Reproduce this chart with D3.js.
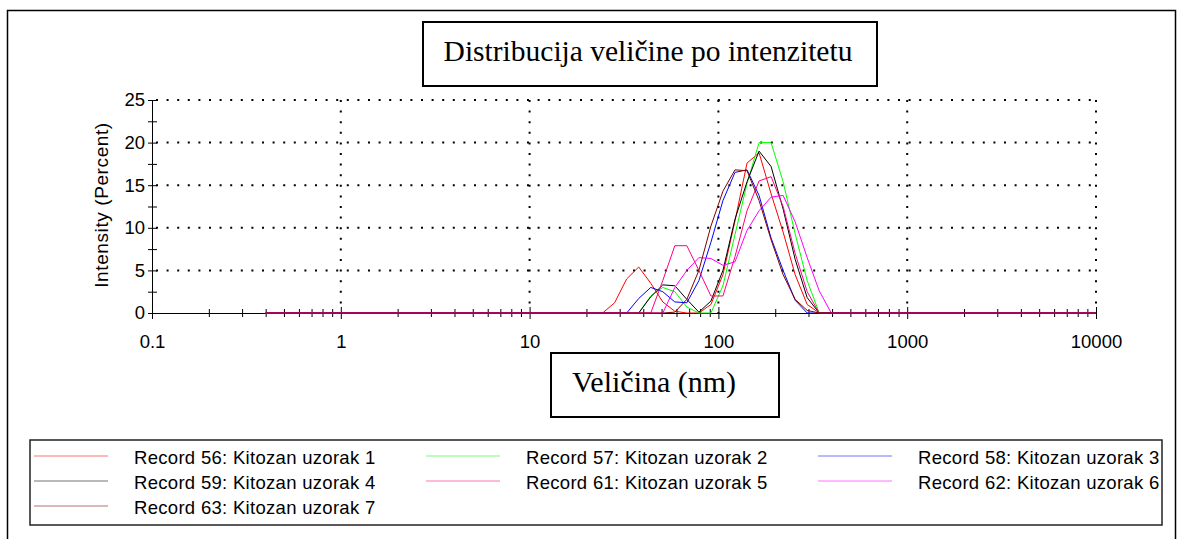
<!DOCTYPE html>
<html>
<head>
<meta charset="utf-8">
<script src="https://cdn.jsdelivr.net/npm/d3@7"></script>
<style>
  body { margin: 0; background: #fff; }
  svg { display: block; font-family: "Liberation Sans", Arial, sans-serif; }
</style>
</head>
<body>
<div id="chart"></div>
<script>
var svgWidth = 1178;
var svgHeight = 539;

// size classes (nm)
var sizes = [
  0.4, 0.4632, 0.5365, 0.6213, 0.7195, 0.8332, 0.965, 1.117, 1.294, 1.499,
  1.736, 2.01, 2.328, 2.696, 3.122, 3.615, 4.187, 4.849, 5.615, 6.503,
  7.531, 8.721, 10.1, 11.7, 13.54, 15.69, 18.17, 21.04, 24.36, 28.21,
  32.67, 37.84, 43.82, 50.75, 58.77, 68.06, 78.82, 91.28, 105.7, 122.4,
  141.8, 164.2, 190.1, 220.2, 255.0, 295.3, 342.0, 396.1, 458.7, 531.2,
  615.1, 712.4, 825.0, 955.4, 1106, 1281, 1484, 1718, 1990, 2305,
  2669, 3091, 3580, 4145, 4801, 5560, 6439, 7456, 8635, 10000
];

// intensity (%) per size class
var rec56 = [
  0, 0, 0, 0, 0, 0, 0, 0, 0, 0,
  0, 0, 0, 0, 0, 0, 0, 0, 0, 0,
  0, 0, 0, 0, 0, 0, 0, 0, 0, 1.2,
  4.0, 5.4, 3.5, 1.3, 0.2, 0, 0, 1.0, 4.5, 10.8,
  17.6, 18.8, 14.0, 9.5, 4.5, 1.0, 0, 0, 0, 0,
  0, 0, 0, 0, 0, 0, 0, 0, 0, 0,
  0, 0, 0, 0, 0, 0, 0, 0, 0, 0
];
var rec57 = [
  0, 0, 0, 0, 0, 0, 0, 0, 0, 0,
  0, 0, 0, 0, 0, 0, 0, 0, 0, 0,
  0, 0, 0, 0, 0, 0, 0, 0, 0, 0,
  0, 0, 2.0, 3.0, 2.5, 0.7, 0, 0, 3.2, 9.2,
  15.2, 20.0, 20.0, 15.4, 9.3, 3.8, 0, 0, 0, 0,
  0, 0, 0, 0, 0, 0, 0, 0, 0, 0,
  0, 0, 0, 0, 0, 0, 0, 0, 0, 0
];
var rec58 = [
  0, 0, 0, 0, 0, 0, 0, 0, 0, 0,
  0, 0, 0, 0, 0, 0, 0, 0, 0, 0,
  0, 0, 0, 0, 0, 0, 0, 0, 0, 0,
  0, 1.7, 3.0, 2.5, 1.3, 1.2, 3.8, 8.3, 13.2, 16.5,
  16.8, 13.8, 8.8, 5.0, 1.5, 0, 0, 0, 0, 0,
  0, 0, 0, 0, 0, 0, 0, 0, 0, 0,
  0, 0, 0, 0, 0, 0, 0, 0, 0, 0
];
var rec59 = [
  0, 0, 0, 0, 0, 0, 0, 0, 0, 0,
  0, 0, 0, 0, 0, 0, 0, 0, 0, 0,
  0, 0, 0, 0, 0, 0, 0, 0, 0, 0,
  0, 0, 1.9, 3.3, 3.2, 1.6, 0.1, 1.4, 5.0, 11.0,
  15.4, 19.0, 17.2, 12.2, 6.3, 1.8, 0, 0, 0, 0,
  0, 0, 0, 0, 0, 0, 0, 0, 0, 0,
  0, 0, 0, 0, 0, 0, 0, 0, 0, 0
];
var rec61 = [
  0, 0, 0, 0, 0, 0, 0, 0, 0, 0,
  0, 0, 0, 0, 0, 0, 0, 0, 0, 0,
  0, 0, 0, 0, 0, 0, 0, 0, 0, 0,
  0, 0, 0, 3.8, 7.9, 7.9, 5.0, 2.0, 2.0, 6.6,
  12.0, 15.5, 16.0, 12.5, 7.0, 2.5, 0, 0, 0, 0,
  0, 0, 0, 0, 0, 0, 0, 0, 0, 0,
  0, 0, 0, 0, 0, 0, 0, 0, 0, 0
];
var rec62 = [
  0, 0, 0, 0, 0, 0, 0, 0, 0, 0,
  0, 0, 0, 0, 0, 0, 0, 0, 0, 0,
  0, 0, 0, 0, 0, 0, 0, 0, 0, 0,
  0, 0, 0, 0, 3.0, 5.0, 6.5, 6.4, 5.6, 6.0,
  9.7, 12.0, 13.6, 13.8, 10.7, 6.5, 2.6, 0, 0, 0,
  0, 0, 0, 0, 0, 0, 0, 0, 0, 0,
  0, 0, 0, 0, 0, 0, 0, 0, 0, 0
];
var rec63 = [
  0, 0, 0, 0, 0, 0, 0, 0, 0, 0,
  0, 0, 0, 0, 0, 0, 0, 0, 0, 0,
  0, 0, 0, 0, 0, 0, 0, 0, 0, 0,
  0, 0, 0, 0, 0.1, 1.6, 5.0, 10.2, 14.3, 16.8,
  16.7, 13.2, 8.6, 4.5, 1.6, 0.3, 0, 0, 0, 0,
  0, 0, 0, 0, 0, 0, 0, 0, 0, 0,
  0, 0, 0, 0, 0, 0, 0, 0, 0, 0
];

var seriesNames = [
  "Record 56: Kitozan uzorak 1",
  "Record 57: Kitozan uzorak 2",
  "Record 58: Kitozan uzorak 3",
  "Record 59: Kitozan uzorak 4",
  "Record 61: Kitozan uzorak 5",
  "Record 62: Kitozan uzorak 6",
  "Record 63: Kitozan uzorak 7"
];
var seriesColors = ["#ff0000", "#00ff00", "#0000ff", "#000000", "#ff0080", "#ff00ff", "#800000"];
var seriesValues = [rec56, rec57, rec58, rec59, rec61, rec62, rec63];

var yTicks = [0, 5, 10, 15, 20, 25];
var yMinorTicks = [2.5, 7.5, 12.5, 17.5, 22.5];
var xTicks = [0.1, 1, 10, 100, 1000, 10000];
var xTickLabels = ["0.1", "1", "10", "100", "1000", "10000"];

var titleText = "Distribucija veličine po intenzitetu";
var xLabel = "Veličina (nm)";
var yLabel = "Intensity (Percent)";

var plot = { left: 152, right: 1096, top: 100, bottom: 313 };

var svg = d3.select("#chart")
  .append("svg")
  .attr("width", svgWidth)
  .attr("height", svgHeight);

// outer frame
svg.append("rect")
  .attr("x", 7.5).attr("y", 10.5)
  .attr("width", 1168).attr("height", 540)
  .attr("fill", "none").attr("stroke", "#000").attr("stroke-width", 1.5);

var x = d3.scaleLog().domain([0.1, 10000]).range([plot.left, plot.right]);
var y = d3.scaleLinear().domain([0, 25]).range([plot.bottom, plot.top]);

// minor x ticks 2..9 per decade
var xMinorTicks = [];
xTicks.slice(0, -1).forEach(function(d) {
  for (var k = 2; k <= 9; k++) xMinorTicks.push(d * k);
});

// dotted grid
var grid = svg.append("g")
  .attr("stroke", "#000")
  .attr("stroke-width", 2)
  .attr("stroke-dasharray", "2 8.6");
grid.selectAll("line.h").data(yTicks.slice(1)).enter()
  .append("line")
  .attr("class", "h")
  .attr("x1", plot.left + 4).attr("x2", plot.right)
  .attr("y1", function(d) { return y(d); })
  .attr("y2", function(d) { return y(d); });
grid.selectAll("line.v").data(xTicks.slice(1)).enter()
  .append("line")
  .attr("class", "v")
  .attr("x1", function(d) { return x(d); })
  .attr("x2", function(d) { return x(d); })
  .attr("y1", plot.top).attr("y2", plot.bottom);

// y axis
var yAxis = svg.append("g")
  .attr("transform", "translate(" + plot.left + ",0)")
  .call(d3.axisLeft(y).tickValues(yTicks).tickSize(4).tickSizeOuter(0).tickPadding(3));
yAxis.selectAll(".tick line").attr("x1", 5);
yAxis.selectAll("text")
  .attr("font-size", 18.5)
  .attr("font-family", "Liberation Sans, Arial, sans-serif");

var yMinor = svg.append("g")
  .attr("transform", "translate(" + plot.left + ",0)")
  .call(d3.axisLeft(y).tickValues(yMinorTicks).tickSize(4).tickFormat(""));
yMinor.select(".domain").remove();
yMinor.selectAll(".tick line").attr("x1", 5);

// x axis
var xAxis = svg.append("g")
  .attr("transform", "translate(0," + plot.bottom + ")")
  .call(d3.axisBottom(x).tickValues(xTicks)
    .tickFormat(function(d, i) { return xTickLabels[i]; })
    .tickSize(6).tickSizeOuter(0).tickPadding(16));
xAxis.selectAll(".tick line").attr("y1", -6);
xAxis.selectAll("text")
  .attr("font-size", 18.5)
  .attr("font-family", "Liberation Sans, Arial, sans-serif");

var xMinor = svg.append("g")
  .attr("transform", "translate(0," + plot.bottom + ")")
  .call(d3.axisBottom(x).tickValues(xMinorTicks).tickSize(4).tickFormat(""));
xMinor.select(".domain").remove();
xMinor.selectAll(".tick line").attr("y1", -4);

// curves
var line = d3.line()
  .x(function(d, i) { return x(sizes[i]); })
  .y(function(d) { return y(d); });

svg.append("g").selectAll("path")
  .data(seriesValues).enter()
  .append("path")
  .attr("d", line)
  .attr("fill", "none")
  .attr("stroke", function(d, i) { return seriesColors[i]; })
  .attr("stroke-width", 1);

// y label
svg.append("text")
  .attr("transform", "translate(108,205) rotate(-90)")
  .attr("text-anchor", "middle")
  .attr("font-size", 19)
  .attr("letter-spacing", 0.6)
  .text(yLabel);

// title box
svg.append("rect")
  .attr("x", 423).attr("y", 22)
  .attr("width", 454).attr("height", 64)
  .attr("fill", "#fff").attr("stroke", "#000").attr("stroke-width", 2);
svg.append("text")
  .attr("x", 648).attr("y", 61)
  .attr("text-anchor", "middle")
  .attr("font-family", "Liberation Serif, Times New Roman, serif")
  .attr("font-size", 29.5)
  .text(titleText);

// x label box
svg.append("rect")
  .attr("x", 551).attr("y", 353)
  .attr("width", 228).attr("height", 64)
  .attr("fill", "#fff").attr("stroke", "#000").attr("stroke-width", 2);
svg.append("text")
  .attr("x", 572).attr("y", 392)
  .attr("font-family", "Liberation Serif, Times New Roman, serif")
  .attr("font-size", 30)
  .text(xLabel);

// legend
svg.append("rect")
  .attr("x", 30).attr("y", 440)
  .attr("width", 1132).attr("height", 85)
  .attr("fill", "#fff").attr("stroke", "#222").attr("stroke-width", 1.5);

var legend = svg.append("g").selectAll("g")
  .data(seriesNames).enter()
  .append("g")
  .attr("transform", function(d, i) {
    return "translate(" + (34 + (i % 3) * 392) + "," + (456 + Math.floor(i / 3) * 25) + ")";
  });
legend.append("line")
  .attr("x1", 0).attr("x2", 74)
  .attr("stroke", function(d, i) { return seriesColors[i]; })
  .attr("stroke-width", 1)
  .attr("opacity", 0.55);
legend.append("text")
  .attr("x", 100).attr("y", 8)
  .attr("font-size", 18.5)
  .attr("letter-spacing", 0.3)
  .text(function(d) { return d; });
</script>
</body>
</html>
